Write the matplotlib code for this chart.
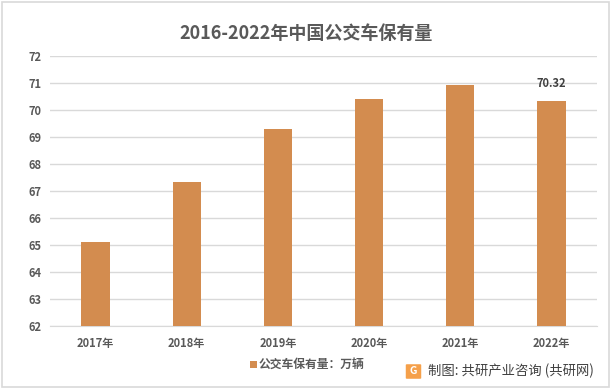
import matplotlib
matplotlib.use("Agg")
import matplotlib.pyplot as plt
from matplotlib.patches import Rectangle, FancyBboxPatch

plt.rcParams['font.family'] = ['Noto Sans CJK SC', 'DejaVu Sans']

years = ["2017年", "2018年", "2019年", "2020年", "2021年", "2022年"]
values = [65.12, 67.33, 69.30, 70.41, 70.93, 70.32]
yticks = [62, 63, 64, 65, 66, 67, 68, 69, 70, 71, 72]
title = "2016-2022年中国公交车保有量"
legend_label = "公交车保有量：万辆"
source = "制图: 共研产业咨询 (共研网)"

bar_color = "#D38C4F"
text_color = "#595959"

fig = plt.figure(figsize=(6.13, 3.89), dpi=100)
fig.patches.append(Rectangle((0.004, 0.006), 0.99, 0.988, transform=fig.transFigure,
                             fill=False, edgecolor="#D9D9D9", linewidth=1.2))

ax = fig.add_axes([50/613, 1-326/389, 547/613, 270/389])
x = list(range(len(years)))
ax.bar(x, values, width=0.31, color=bar_color, zorder=3)
ax.set_ylim(62, 72)
ax.set_xlim(-0.5, len(years)-0.5)
ax.set_yticks(yticks)
ax.set_yticklabels([str(t) for t in yticks], fontsize=8, color=text_color, fontweight='bold')
ax.set_xticks(x)
ax.set_xticklabels(years, fontsize=8, color=text_color, fontweight='bold')
ax.tick_params(axis='both', length=0, pad=6)
ax.tick_params(axis='x', pad=8)
ax.yaxis.grid(True, color="#D9D9D9", linewidth=1, zorder=0)
for s in ax.spines.values():
    s.set_visible(False)
ax.spines['bottom'].set_visible(True)
ax.spines['bottom'].set_color("#D9D9D9")

ax.annotate(f"{values[-1]:.2f}", (x[-1], values[-1]), xytext=(0, 8), textcoords='offset points',
            ha='center', va='bottom', fontsize=8, fontweight='bold', color="#404040")

fig.text(0.5, 1-33/389, title, ha='center', va='center', fontsize=13, fontweight='bold', color=text_color)

# legend
fig.patches.append(Rectangle((250/613, 1-368/389), 7/613, 7/389, transform=fig.transFigure,
                             facecolor=bar_color, edgecolor='none'))
fig.text(259/613, 1-364/389, legend_label, ha='left', va='center', fontsize=8.5,
         fontweight='bold', color=text_color)

# source with logo
fig.patches.append(FancyBboxPatch((407/613, 1-378/389), 13/613, 13/389, transform=fig.transFigure,
                                  boxstyle="round,pad=0.002", facecolor="#F5A04A", edgecolor='none'))
fig.text(413.5/613, 1-371.5/389, "G", ha='center', va='center', fontsize=7.5, fontweight='bold', color='white')
fig.text(428/613, 1-371/389, source, ha='left', va='center', fontsize=9.6, color="#404040")

fig.savefig("out.png", dpi=100)
